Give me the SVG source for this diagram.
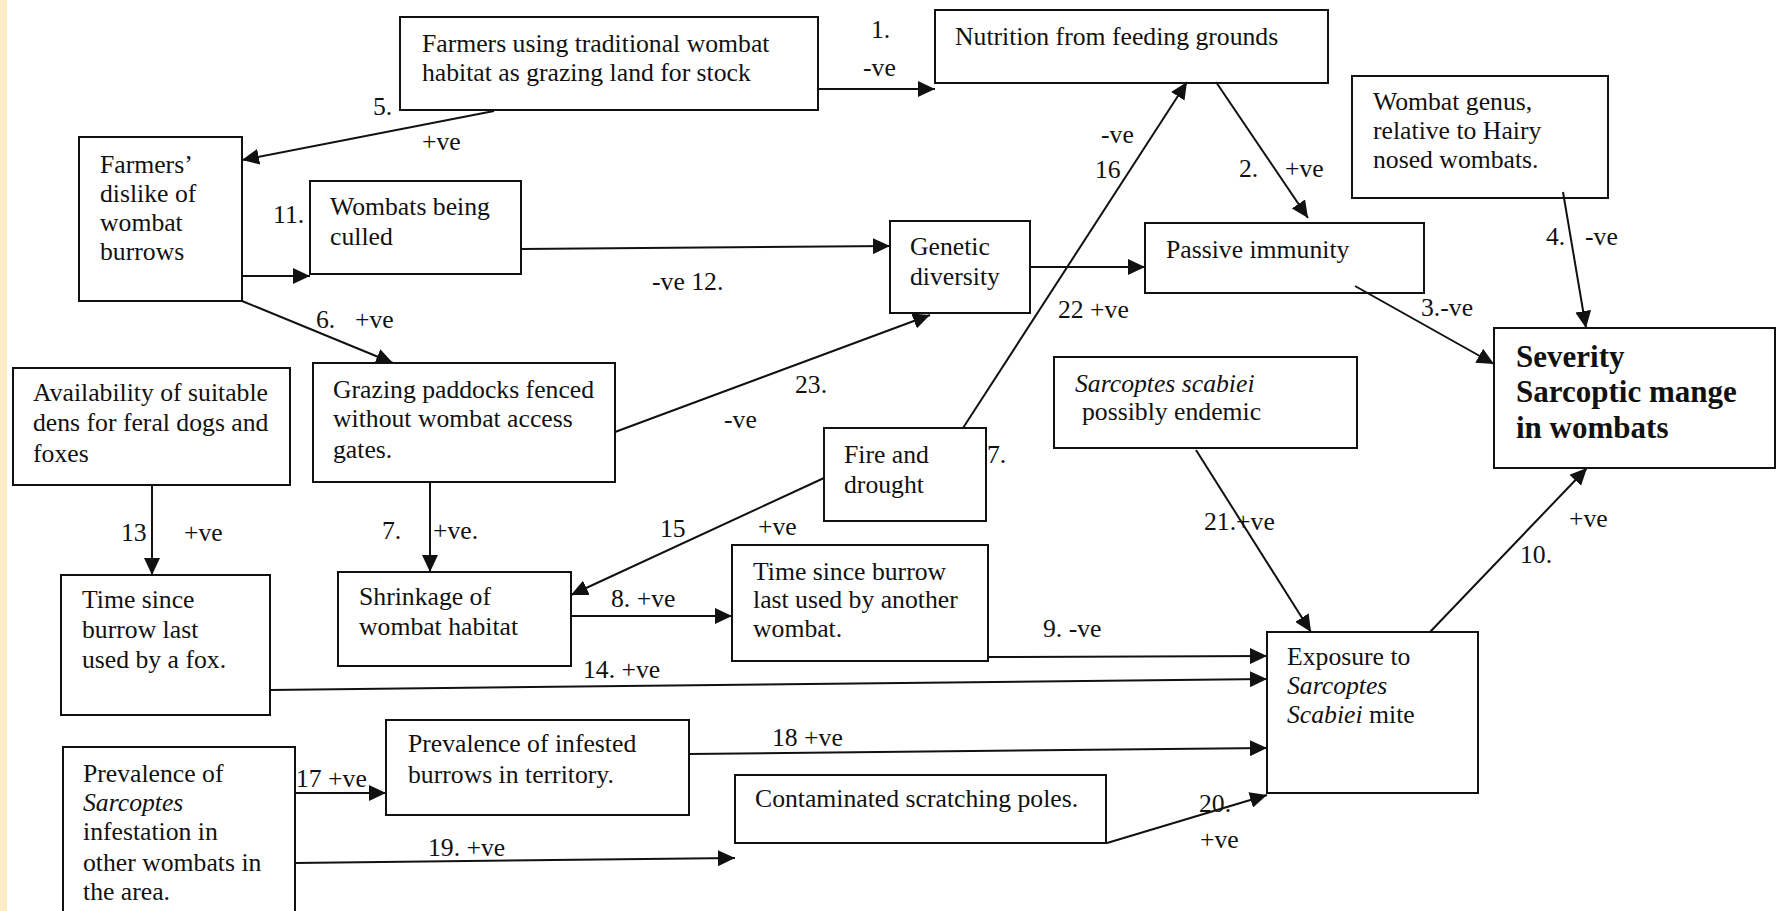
<svg xmlns="http://www.w3.org/2000/svg" width="1781" height="911" viewBox="0 0 1781 911">
<style>
.box{fill:#fff;stroke:#111;stroke-width:2}
.t{font-family:"Liberation Serif","Times New Roman",serif;font-size:25.7px;fill:#111}
.b{font-weight:bold;font-size:31px}
.i{font-style:italic}
.c{stroke:#111;stroke-width:2;fill:none;marker-end:url(#ah)}
</style>
<defs>
<marker id="ah" markerUnits="userSpaceOnUse" markerWidth="18" markerHeight="16" refX="17" refY="8" orient="auto">
<path d="M0,0 L17,8 L0,16 z" fill="#111"/>
</marker>
</defs>
<rect x="0" y="0" width="1781" height="911" fill="#fff"/>
<rect x="0" y="0" width="7" height="911" fill="#fdebc8"/>

<g id="n-farmers-grazing"><rect class="box" x="400" y="17" width="418" height="93"/>
<text class="t" x="422" y="52">Farmers using traditional wombat</text>
<text class="t" x="422" y="81">habitat as grazing land for stock</text></g>

<g id="n-nutrition"><rect class="box" x="935" y="10" width="393" height="73"/>
<text class="t" x="955" y="45">Nutrition from feeding grounds</text></g>

<g id="n-genus"><rect class="box" x="1352" y="76" width="256" height="122"/>
<text class="t" x="1373" y="110">Wombat genus,</text>
<text class="t" x="1373" y="139">relative to Hairy</text>
<text class="t" x="1373" y="168">nosed wombats.</text></g>

<g id="n-dislike"><rect class="box" x="79" y="137" width="163" height="164"/>
<text class="t" x="100" y="173">Farmers’</text>
<text class="t" x="100" y="202">dislike of</text>
<text class="t" x="100" y="231">wombat</text>
<text class="t" x="100" y="260">burrows</text></g>

<g id="n-culled"><rect class="box" x="310" y="181" width="211" height="93"/>
<text class="t" x="330" y="215">Wombats being</text>
<text class="t" x="330" y="245">culled</text></g>

<g id="n-genetic"><rect class="box" x="890" y="221" width="140" height="92"/>
<text class="t" x="910" y="255">Genetic</text>
<text class="t" x="910" y="285">diversity</text></g>

<g id="n-passive"><rect class="box" x="1145" y="223" width="279" height="70"/>
<text class="t" x="1166" y="258">Passive immunity</text></g>

<g id="n-severity"><rect class="box" x="1494" y="328" width="281" height="140"/>
<text class="t b" x="1516" y="367">Severity</text>
<text class="t b" x="1516" y="402">Sarcoptic mange</text>
<text class="t b" x="1516" y="438">in wombats</text></g>

<g id="n-dens"><rect class="box" x="13" y="368" width="277" height="117"/>
<text class="t" x="33" y="401">Availability of suitable</text>
<text class="t" x="33" y="431">dens for feral dogs and</text>
<text class="t" x="33" y="462">foxes</text></g>

<g id="n-paddocks"><rect class="box" x="313" y="363" width="302" height="119"/>
<text class="t" x="333" y="398">Grazing paddocks fenced</text>
<text class="t" x="333" y="427">without wombat access</text>
<text class="t" x="333" y="458">gates.</text></g>

<g id="n-fire"><rect class="box" x="824" y="428" width="162" height="93"/>
<text class="t" x="844" y="463">Fire and</text>
<text class="t" x="844" y="493">drought</text></g>

<g id="n-endemic"><rect class="box" x="1054" y="357" width="303" height="91"/>
<text class="t i" x="1075" y="392">Sarcoptes scabiei</text>
<text class="t" x="1082" y="420">possibly endemic</text></g>

<g id="n-fox"><rect class="box" x="61" y="575" width="209" height="140"/>
<text class="t" x="82" y="608">Time since</text>
<text class="t" x="82" y="638">burrow last</text>
<text class="t" x="82" y="668">used by a fox.</text></g>

<g id="n-shrinkage"><rect class="box" x="338" y="572" width="233" height="94"/>
<text class="t" x="359" y="605">Shrinkage of</text>
<text class="t" x="359" y="635">wombat habitat</text></g>

<g id="n-another"><rect class="box" x="732" y="545" width="256" height="116"/>
<text class="t" x="753" y="580">Time since burrow</text>
<text class="t" x="753" y="608">last used by another</text>
<text class="t" x="753" y="637">wombat.</text></g>

<g id="n-exposure"><rect class="box" x="1267" y="632" width="211" height="161"/>
<text class="t" x="1287" y="665">Exposure to</text>
<text class="t i" x="1287" y="694">Sarcoptes</text>
<text class="t" x="1287" y="723"><tspan class="i">Scabiei</tspan> mite</text></g>

<g id="n-infested"><rect class="box" x="386" y="720" width="303" height="95"/>
<text class="t" x="408" y="752">Prevalence of infested</text>
<text class="t" x="408" y="783">burrows in territory.</text></g>

<g id="n-poles"><rect class="box" x="735" y="775" width="371" height="68"/>
<text class="t" x="755" y="807">Contaminated scratching poles.</text></g>

<g id="n-prevalence"><rect class="box" x="63" y="747" width="232" height="170"/>
<text class="t" x="83" y="782">Prevalence of</text>
<text class="t i" x="83" y="811">Sarcoptes</text>
<text class="t" x="83" y="840">infestation in</text>
<text class="t" x="83" y="871">other wombats in</text>
<text class="t" x="83" y="900">the area.</text></g>

<g id="connectors">
<path class="c" d="M819,89 L935,89"/>
<path class="c" d="M494,111 L242,160"/>
<path class="c" d="M242,276 L310,276"/>
<path class="c" d="M521,249 L890,246"/>
<path class="c" d="M242,301 L393,363"/>
<path class="c" d="M615,432 L930,315"/>
<path class="c" d="M430,482 L430,572"/>
<path class="c" d="M152,485 L152,575"/>
<path class="c" d="M824,478 L571,595"/>
<path class="c" d="M963,428 L1187,82"/>
<path class="c" d="M1216,82 L1308,218"/>
<path class="c" d="M1030,267 L1145,267"/>
<path class="c" d="M1355,286 L1494,364"/>
<path class="c" d="M1563,192 L1586,328"/>
<path class="c" d="M1196,450 L1311,632"/>
<path class="c" d="M1430,632 L1587,468"/>
<path class="c" d="M571,616 L732,616"/>
<path class="c" d="M988,657 L1267,656"/>
<path class="c" d="M270,690 L1267,679"/>
<path class="c" d="M295,793 L386,793"/>
<path class="c" d="M689,754 L1267,748"/>
<path class="c" d="M295,863 L735,858"/>
<path class="c" d="M1107,843 L1267,795"/>

<text class="t" x="871" y="38">1.</text>
<text class="t" x="863" y="76">-ve</text>
<text class="t" x="373" y="115">5.</text>
<text class="t" x="422" y="150">+ve</text>
<text class="t" x="273" y="223">11.</text>
<text class="t" x="652" y="290">-ve 12.</text>
<text class="t" x="316" y="328">6.</text>
<text class="t" x="355" y="328">+ve</text>
<text class="t" x="795" y="393">23.</text>
<text class="t" x="724" y="428">-ve</text>
<text class="t" x="121" y="541">13</text>
<text class="t" x="184" y="541">+ve</text>
<text class="t" x="382" y="539">7.</text>
<text class="t" x="433" y="539">+ve.</text>
<text class="t" x="660" y="537">15</text>
<text class="t" x="758" y="535">+ve</text>
<text class="t" x="1101" y="143">-ve</text>
<text class="t" x="1095" y="178">16</text>
<text class="t" x="1058" y="318">22 +ve</text>
<text class="t" x="987" y="463">7.</text>
<text class="t" x="1239" y="177">2.</text>
<text class="t" x="1285" y="177">+ve</text>
<text class="t" x="1421" y="316">3.-ve</text>
<text class="t" x="1546" y="245">4.</text>
<text class="t" x="1585" y="245">-ve</text>
<text class="t" x="1204" y="530">21.+ve</text>
<text class="t" x="1569" y="527">+ve</text>
<text class="t" x="1520" y="563">10.</text>
<text class="t" x="611" y="607">8. +ve</text>
<text class="t" x="1043" y="637">9. -ve</text>
<text class="t" x="583" y="678">14. +ve</text>
<text class="t" x="296" y="787">17 +ve</text>
<text class="t" x="772" y="746">18 +ve</text>
<text class="t" x="428" y="856">19. +ve</text>
<text class="t" x="1199" y="812">20.</text>
<text class="t" x="1200" y="848">+ve</text>
</g>
</svg>
